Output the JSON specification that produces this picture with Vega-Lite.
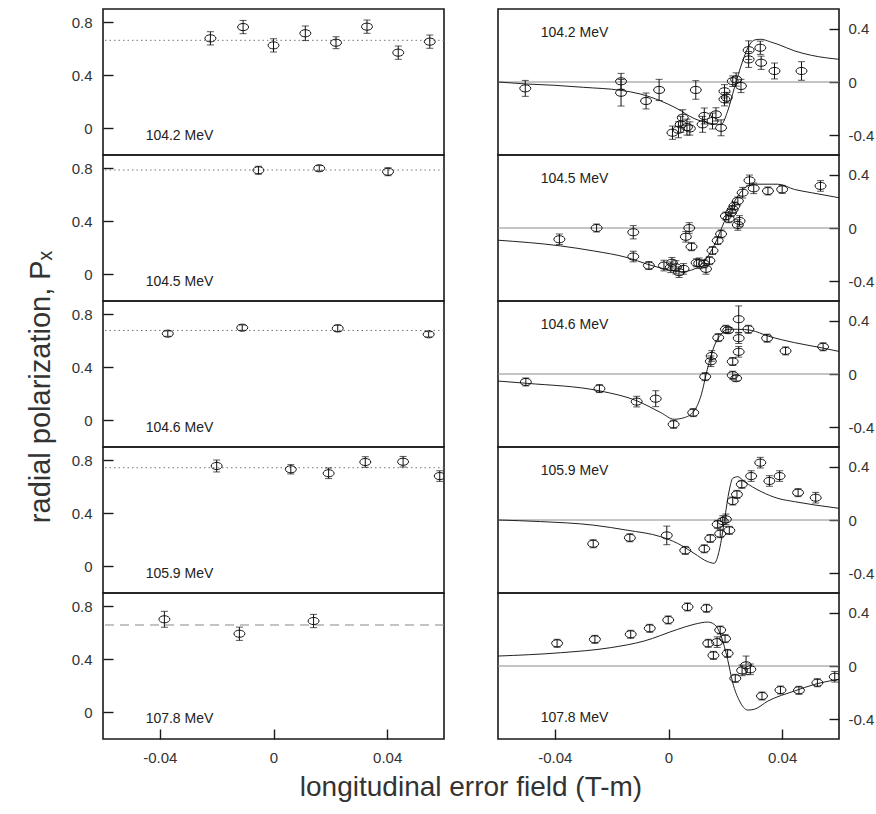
{
  "$schema": "https://vega.github.io/schema/vega-lite/v6.json",
  "padding": {"left": 27, "top": 8, "right": 0, "bottom": 5},
  "background": "white",
  "config": {
    "font": "Liberation Sans",
    "view": {"stroke": "#1a1a1a", "strokeWidth": 1.6},
    "axis": {"domain": false, "ticks": false, "tickSize": 0, "grid": true, "gridDash": [10, 2000], "gridColor": "#1a1a1a", "gridWidth": 1.4, "gridOpacity": 1, "labelFontSize": 15, "labelColor": "#333", "labelFont": "Liberation Sans"}
  },
  "datasets": {
    "left": [
      {"e": "104.2 MeV", "kind": "label"},
      {"e": "104.2 MeV", "kind": "mean", "y": 0.664},
      {"e": "104.2 MeV", "kind": "pt", "x": -0.0222, "y": 0.679, "err": 0.05},
      {"e": "104.2 MeV", "kind": "pt", "x": -0.0107, "y": 0.764, "err": 0.05},
      {"e": "104.2 MeV", "kind": "pt", "x": 0.0, "y": 0.626, "err": 0.05},
      {"e": "104.2 MeV", "kind": "pt", "x": 0.0112, "y": 0.717, "err": 0.055},
      {"e": "104.2 MeV", "kind": "pt", "x": 0.022, "y": 0.646, "err": 0.045},
      {"e": "104.2 MeV", "kind": "pt", "x": 0.0329, "y": 0.767, "err": 0.05},
      {"e": "104.2 MeV", "kind": "pt", "x": 0.0439, "y": 0.571, "err": 0.05},
      {"e": "104.2 MeV", "kind": "pt", "x": 0.055, "y": 0.654, "err": 0.05},
      {"e": "104.5 MeV", "kind": "label"},
      {"e": "104.5 MeV", "kind": "mean", "y": 0.787},
      {"e": "104.5 MeV", "kind": "pt", "x": -0.0053, "y": 0.785, "err": 0.03},
      {"e": "104.5 MeV", "kind": "pt", "x": 0.0161, "y": 0.8, "err": 0.02},
      {"e": "104.5 MeV", "kind": "pt", "x": 0.0403, "y": 0.774, "err": 0.03},
      {"e": "104.6 MeV", "kind": "label"},
      {"e": "104.6 MeV", "kind": "mean", "y": 0.678},
      {"e": "104.6 MeV", "kind": "pt", "x": -0.0372, "y": 0.654, "err": 0.02},
      {"e": "104.6 MeV", "kind": "pt", "x": -0.011, "y": 0.699, "err": 0.02},
      {"e": "104.6 MeV", "kind": "pt", "x": 0.0226, "y": 0.694, "err": 0.025},
      {"e": "104.6 MeV", "kind": "pt", "x": 0.0546, "y": 0.649, "err": 0.02},
      {"e": "105.9 MeV", "kind": "label"},
      {"e": "105.9 MeV", "kind": "mean", "y": 0.744},
      {"e": "105.9 MeV", "kind": "pt", "x": -0.02, "y": 0.757, "err": 0.045},
      {"e": "105.9 MeV", "kind": "pt", "x": 0.0061, "y": 0.732, "err": 0.035},
      {"e": "105.9 MeV", "kind": "pt", "x": 0.0194, "y": 0.702, "err": 0.04},
      {"e": "105.9 MeV", "kind": "pt", "x": 0.0323, "y": 0.787, "err": 0.04},
      {"e": "105.9 MeV", "kind": "pt", "x": 0.0456, "y": 0.789, "err": 0.04},
      {"e": "105.9 MeV", "kind": "pt", "x": 0.0585, "y": 0.681, "err": 0.04},
      {"e": "107.8 MeV", "kind": "label"},
      {"e": "107.8 MeV", "kind": "mean", "y": 0.659},
      {"e": "107.8 MeV", "kind": "pt", "x": -0.0384, "y": 0.702, "err": 0.06},
      {"e": "107.8 MeV", "kind": "pt", "x": -0.012, "y": 0.593, "err": 0.05},
      {"e": "107.8 MeV", "kind": "pt", "x": 0.0141, "y": 0.689, "err": 0.05}
    ],
    "right": [
      {"e": "104.2 MeV", "kind": "label"},
      {"e": "104.2 MeV", "kind": "pt", "x": -0.0504, "y": -0.048, "err": 0.06},
      {"e": "104.2 MeV", "kind": "pt", "x": -0.0167, "y": 0.005, "err": 0.06},
      {"e": "104.2 MeV", "kind": "pt", "x": -0.0167, "y": -0.081, "err": 0.1},
      {"e": "104.2 MeV", "kind": "pt", "x": -0.0079, "y": -0.143, "err": 0.06},
      {"e": "104.2 MeV", "kind": "pt", "x": -0.0033, "y": -0.06, "err": 0.08},
      {"e": "104.2 MeV", "kind": "pt", "x": 0.0096, "y": -0.06, "err": 0.07},
      {"e": "104.2 MeV", "kind": "pt", "x": 0.0014, "y": -0.382, "err": 0.05},
      {"e": "104.2 MeV", "kind": "pt", "x": 0.0035, "y": -0.36, "err": 0.06},
      {"e": "104.2 MeV", "kind": "pt", "x": 0.0043, "y": -0.319, "err": 0.06},
      {"e": "104.2 MeV", "kind": "pt", "x": 0.005, "y": -0.269, "err": 0.06},
      {"e": "104.2 MeV", "kind": "pt", "x": 0.0065, "y": -0.34, "err": 0.06},
      {"e": "104.2 MeV", "kind": "pt", "x": 0.0075, "y": -0.35, "err": 0.05},
      {"e": "104.2 MeV", "kind": "pt", "x": 0.012, "y": -0.319, "err": 0.06},
      {"e": "104.2 MeV", "kind": "pt", "x": 0.0126, "y": -0.256, "err": 0.06},
      {"e": "104.2 MeV", "kind": "pt", "x": 0.0155, "y": -0.294, "err": 0.06},
      {"e": "104.2 MeV", "kind": "pt", "x": 0.0167, "y": -0.244, "err": 0.05},
      {"e": "104.2 MeV", "kind": "pt", "x": 0.0185, "y": -0.345, "err": 0.06},
      {"e": "104.2 MeV", "kind": "pt", "x": 0.0197, "y": -0.07, "err": 0.05},
      {"e": "104.2 MeV", "kind": "pt", "x": 0.0197, "y": -0.13, "err": 0.05},
      {"e": "104.2 MeV", "kind": "pt", "x": 0.0205, "y": -0.118, "err": 0.04},
      {"e": "104.2 MeV", "kind": "pt", "x": 0.0226, "y": 0.006, "err": 0.04},
      {"e": "104.2 MeV", "kind": "pt", "x": 0.0238, "y": 0.019, "err": 0.05},
      {"e": "104.2 MeV", "kind": "pt", "x": 0.0255, "y": -0.03, "err": 0.05},
      {"e": "104.2 MeV", "kind": "pt", "x": 0.0282, "y": 0.24, "err": 0.07},
      {"e": "104.2 MeV", "kind": "pt", "x": 0.0282, "y": 0.17, "err": 0.06},
      {"e": "104.2 MeV", "kind": "pt", "x": 0.0323, "y": 0.258, "err": 0.05},
      {"e": "104.2 MeV", "kind": "pt", "x": 0.0326, "y": 0.145, "err": 0.05},
      {"e": "104.2 MeV", "kind": "pt", "x": 0.0373, "y": 0.083, "err": 0.06},
      {"e": "104.2 MeV", "kind": "pt", "x": 0.0468, "y": 0.083, "err": 0.07},
      {"e": "104.2 MeV", "kind": "fit", "x": -0.06, "y": 0.0},
      {"e": "104.2 MeV", "kind": "fit", "x": -0.05, "y": -0.015},
      {"e": "104.2 MeV", "kind": "fit", "x": -0.04, "y": -0.025},
      {"e": "104.2 MeV", "kind": "fit", "x": -0.03, "y": -0.04},
      {"e": "104.2 MeV", "kind": "fit", "x": -0.0167, "y": -0.063},
      {"e": "104.2 MeV", "kind": "fit", "x": -0.01, "y": -0.09},
      {"e": "104.2 MeV", "kind": "fit", "x": -0.0027, "y": -0.143},
      {"e": "104.2 MeV", "kind": "fit", "x": 0.003, "y": -0.2},
      {"e": "104.2 MeV", "kind": "fit", "x": 0.009, "y": -0.275},
      {"e": "104.2 MeV", "kind": "fit", "x": 0.0145, "y": -0.31},
      {"e": "104.2 MeV", "kind": "fit", "x": 0.0185, "y": -0.32},
      {"e": "104.2 MeV", "kind": "fit", "x": 0.0208, "y": -0.22},
      {"e": "104.2 MeV", "kind": "fit", "x": 0.0232, "y": -0.043},
      {"e": "104.2 MeV", "kind": "fit", "x": 0.0261, "y": 0.158},
      {"e": "104.2 MeV", "kind": "fit", "x": 0.0285, "y": 0.28},
      {"e": "104.2 MeV", "kind": "fit", "x": 0.0305, "y": 0.318},
      {"e": "104.2 MeV", "kind": "fit", "x": 0.0326, "y": 0.322},
      {"e": "104.2 MeV", "kind": "fit", "x": 0.0355, "y": 0.305},
      {"e": "104.2 MeV", "kind": "fit", "x": 0.0385, "y": 0.284},
      {"e": "104.2 MeV", "kind": "fit", "x": 0.0444, "y": 0.234},
      {"e": "104.2 MeV", "kind": "fit", "x": 0.0503, "y": 0.201},
      {"e": "104.2 MeV", "kind": "fit", "x": 0.06, "y": 0.171},
      {"e": "104.5 MeV", "kind": "label"},
      {"e": "104.5 MeV", "kind": "pt", "x": -0.0384, "y": -0.085, "err": 0.04},
      {"e": "104.5 MeV", "kind": "pt", "x": -0.0253, "y": 0.0, "err": 0.03},
      {"e": "104.5 MeV", "kind": "pt", "x": -0.0124, "y": -0.032, "err": 0.05},
      {"e": "104.5 MeV", "kind": "pt", "x": -0.0124, "y": -0.215, "err": 0.04},
      {"e": "104.5 MeV", "kind": "pt", "x": -0.0069, "y": -0.283, "err": 0.03},
      {"e": "104.5 MeV", "kind": "pt", "x": -0.0016, "y": -0.283, "err": 0.04},
      {"e": "104.5 MeV", "kind": "pt", "x": 0.0008, "y": -0.296, "err": 0.04},
      {"e": "104.5 MeV", "kind": "pt", "x": 0.0012, "y": -0.262, "err": 0.04},
      {"e": "104.5 MeV", "kind": "pt", "x": 0.0026, "y": -0.296, "err": 0.05},
      {"e": "104.5 MeV", "kind": "pt", "x": 0.0037, "y": -0.333, "err": 0.04},
      {"e": "104.5 MeV", "kind": "pt", "x": 0.0053, "y": -0.308, "err": 0.04},
      {"e": "104.5 MeV", "kind": "pt", "x": 0.0073, "y": 0.0, "err": 0.04},
      {"e": "104.5 MeV", "kind": "pt", "x": 0.0061, "y": -0.066, "err": 0.04},
      {"e": "104.5 MeV", "kind": "pt", "x": 0.0081, "y": -0.141, "err": 0.03},
      {"e": "104.5 MeV", "kind": "pt", "x": 0.0099, "y": -0.262, "err": 0.03},
      {"e": "104.5 MeV", "kind": "pt", "x": 0.0108, "y": -0.266, "err": 0.04},
      {"e": "104.5 MeV", "kind": "pt", "x": 0.0125, "y": -0.27, "err": 0.03},
      {"e": "104.5 MeV", "kind": "pt", "x": 0.0132, "y": -0.308, "err": 0.04},
      {"e": "104.5 MeV", "kind": "pt", "x": 0.0144, "y": -0.246, "err": 0.03},
      {"e": "104.5 MeV", "kind": "pt", "x": 0.0155, "y": -0.17, "err": 0.03},
      {"e": "104.5 MeV", "kind": "pt", "x": 0.0173, "y": -0.095, "err": 0.03},
      {"e": "104.5 MeV", "kind": "pt", "x": 0.0185, "y": -0.045, "err": 0.03},
      {"e": "104.5 MeV", "kind": "pt", "x": 0.0202, "y": 0.09, "err": 0.03},
      {"e": "104.5 MeV", "kind": "pt", "x": 0.0212, "y": 0.07, "err": 0.03},
      {"e": "104.5 MeV", "kind": "pt", "x": 0.022, "y": 0.116, "err": 0.03},
      {"e": "104.5 MeV", "kind": "pt", "x": 0.0226, "y": 0.14, "err": 0.03},
      {"e": "104.5 MeV", "kind": "pt", "x": 0.0232, "y": 0.166, "err": 0.03},
      {"e": "104.5 MeV", "kind": "pt", "x": 0.0244, "y": 0.204, "err": 0.03},
      {"e": "104.5 MeV", "kind": "pt", "x": 0.025, "y": 0.053, "err": 0.04},
      {"e": "104.5 MeV", "kind": "pt", "x": 0.0244, "y": 0.023, "err": 0.04},
      {"e": "104.5 MeV", "kind": "pt", "x": 0.0261, "y": 0.266, "err": 0.04},
      {"e": "104.5 MeV", "kind": "pt", "x": 0.0285, "y": 0.359, "err": 0.04},
      {"e": "104.5 MeV", "kind": "pt", "x": 0.03, "y": 0.299, "err": 0.04},
      {"e": "104.5 MeV", "kind": "pt", "x": 0.035, "y": 0.279, "err": 0.03},
      {"e": "104.5 MeV", "kind": "pt", "x": 0.04, "y": 0.291, "err": 0.03},
      {"e": "104.5 MeV", "kind": "pt", "x": 0.0535, "y": 0.317, "err": 0.04},
      {"e": "104.5 MeV", "kind": "fit", "x": -0.06, "y": -0.092},
      {"e": "104.5 MeV", "kind": "fit", "x": -0.038, "y": -0.135},
      {"e": "104.5 MeV", "kind": "fit", "x": -0.0263, "y": -0.173},
      {"e": "104.5 MeV", "kind": "fit", "x": -0.0145, "y": -0.223},
      {"e": "104.5 MeV", "kind": "fit", "x": -0.0074, "y": -0.273},
      {"e": "104.5 MeV", "kind": "fit", "x": 0.0, "y": -0.315},
      {"e": "104.5 MeV", "kind": "fit", "x": 0.0043, "y": -0.33},
      {"e": "104.5 MeV", "kind": "fit", "x": 0.009, "y": -0.31},
      {"e": "104.5 MeV", "kind": "fit", "x": 0.0126, "y": -0.25},
      {"e": "104.5 MeV", "kind": "fit", "x": 0.0161, "y": -0.13},
      {"e": "104.5 MeV", "kind": "fit", "x": 0.0197, "y": 0.05},
      {"e": "104.5 MeV", "kind": "fit", "x": 0.0232, "y": 0.2},
      {"e": "104.5 MeV", "kind": "fit", "x": 0.0267, "y": 0.3},
      {"e": "104.5 MeV", "kind": "fit", "x": 0.0302, "y": 0.33},
      {"e": "104.5 MeV", "kind": "fit", "x": 0.0385, "y": 0.33},
      {"e": "104.5 MeV", "kind": "fit", "x": 0.0444, "y": 0.29},
      {"e": "104.5 MeV", "kind": "fit", "x": 0.0503, "y": 0.266},
      {"e": "104.5 MeV", "kind": "fit", "x": 0.06, "y": 0.228},
      {"e": "104.6 MeV", "kind": "label"},
      {"e": "104.6 MeV", "kind": "pt", "x": -0.0502, "y": -0.06, "err": 0.03},
      {"e": "104.6 MeV", "kind": "pt", "x": -0.0243, "y": -0.11, "err": 0.03},
      {"e": "104.6 MeV", "kind": "pt", "x": -0.0112, "y": -0.208, "err": 0.04},
      {"e": "104.6 MeV", "kind": "pt", "x": -0.0045, "y": -0.186, "err": 0.06},
      {"e": "104.6 MeV", "kind": "pt", "x": 0.0018, "y": -0.379, "err": 0.03},
      {"e": "104.6 MeV", "kind": "pt", "x": 0.0087, "y": -0.291, "err": 0.03},
      {"e": "104.6 MeV", "kind": "pt", "x": 0.0129, "y": -0.02, "err": 0.03},
      {"e": "104.6 MeV", "kind": "pt", "x": 0.0149, "y": 0.096, "err": 0.04},
      {"e": "104.6 MeV", "kind": "pt", "x": 0.0152, "y": 0.136, "err": 0.04},
      {"e": "104.6 MeV", "kind": "pt", "x": 0.0175, "y": 0.274, "err": 0.03},
      {"e": "104.6 MeV", "kind": "pt", "x": 0.0202, "y": 0.337, "err": 0.03},
      {"e": "104.6 MeV", "kind": "pt", "x": 0.021, "y": 0.33, "err": 0.02},
      {"e": "104.6 MeV", "kind": "pt", "x": 0.0247, "y": 0.413, "err": 0.1},
      {"e": "104.6 MeV", "kind": "pt", "x": 0.0247, "y": 0.27, "err": 0.04},
      {"e": "104.6 MeV", "kind": "pt", "x": 0.0247, "y": 0.167, "err": 0.04},
      {"e": "104.6 MeV", "kind": "pt", "x": 0.0226, "y": 0.094, "err": 0.03},
      {"e": "104.6 MeV", "kind": "pt", "x": 0.0226, "y": -0.009, "err": 0.03},
      {"e": "104.6 MeV", "kind": "pt", "x": 0.0238, "y": -0.032, "err": 0.02},
      {"e": "104.6 MeV", "kind": "pt", "x": 0.0281, "y": 0.337, "err": 0.03},
      {"e": "104.6 MeV", "kind": "pt", "x": 0.0347, "y": 0.27, "err": 0.03},
      {"e": "104.6 MeV", "kind": "pt", "x": 0.0412, "y": 0.174, "err": 0.03},
      {"e": "104.6 MeV", "kind": "pt", "x": 0.0544, "y": 0.205, "err": 0.03},
      {"e": "104.6 MeV", "kind": "fit", "x": -0.06, "y": -0.053},
      {"e": "104.6 MeV", "kind": "fit", "x": -0.05, "y": -0.07},
      {"e": "104.6 MeV", "kind": "fit", "x": -0.024, "y": -0.128},
      {"e": "104.6 MeV", "kind": "fit", "x": -0.011, "y": -0.203},
      {"e": "104.6 MeV", "kind": "fit", "x": -0.0027, "y": -0.291},
      {"e": "104.6 MeV", "kind": "fit", "x": 0.002, "y": -0.341},
      {"e": "104.6 MeV", "kind": "fit", "x": 0.0055, "y": -0.329},
      {"e": "104.6 MeV", "kind": "fit", "x": 0.009, "y": -0.279},
      {"e": "104.6 MeV", "kind": "fit", "x": 0.0114, "y": -0.166},
      {"e": "104.6 MeV", "kind": "fit", "x": 0.0138, "y": 0.047},
      {"e": "104.6 MeV", "kind": "fit", "x": 0.0161, "y": 0.211},
      {"e": "104.6 MeV", "kind": "fit", "x": 0.0185, "y": 0.299},
      {"e": "104.6 MeV", "kind": "fit", "x": 0.0208, "y": 0.337},
      {"e": "104.6 MeV", "kind": "fit", "x": 0.0244, "y": 0.337},
      {"e": "104.6 MeV", "kind": "fit", "x": 0.0291, "y": 0.329},
      {"e": "104.6 MeV", "kind": "fit", "x": 0.035, "y": 0.286},
      {"e": "104.6 MeV", "kind": "fit", "x": 0.0444, "y": 0.236},
      {"e": "104.6 MeV", "kind": "fit", "x": 0.0538, "y": 0.198},
      {"e": "104.6 MeV", "kind": "fit", "x": 0.06, "y": 0.17},
      {"e": "105.9 MeV", "kind": "label"},
      {"e": "105.9 MeV", "kind": "pt", "x": -0.0265, "y": -0.179, "err": 0.03},
      {"e": "105.9 MeV", "kind": "pt", "x": -0.0136, "y": -0.134, "err": 0.03},
      {"e": "105.9 MeV", "kind": "pt", "x": -0.0006, "y": -0.116, "err": 0.07},
      {"e": "105.9 MeV", "kind": "pt", "x": 0.0059, "y": -0.229, "err": 0.03},
      {"e": "105.9 MeV", "kind": "pt", "x": 0.0126, "y": -0.217, "err": 0.03},
      {"e": "105.9 MeV", "kind": "pt", "x": 0.0147, "y": -0.139, "err": 0.03},
      {"e": "105.9 MeV", "kind": "pt", "x": 0.0173, "y": -0.033, "err": 0.03},
      {"e": "105.9 MeV", "kind": "pt", "x": 0.0182, "y": -0.103, "err": 0.03},
      {"e": "105.9 MeV", "kind": "pt", "x": 0.0191, "y": -0.008, "err": 0.04},
      {"e": "105.9 MeV", "kind": "pt", "x": 0.0202, "y": 0.005, "err": 0.04},
      {"e": "105.9 MeV", "kind": "pt", "x": 0.0214, "y": -0.078, "err": 0.03},
      {"e": "105.9 MeV", "kind": "pt", "x": 0.0226, "y": 0.143, "err": 0.03},
      {"e": "105.9 MeV", "kind": "pt", "x": 0.0241, "y": 0.193, "err": 0.03},
      {"e": "105.9 MeV", "kind": "pt", "x": 0.0258, "y": 0.269, "err": 0.03},
      {"e": "105.9 MeV", "kind": "pt", "x": 0.0291, "y": 0.331, "err": 0.04},
      {"e": "105.9 MeV", "kind": "pt", "x": 0.0323, "y": 0.432, "err": 0.04},
      {"e": "105.9 MeV", "kind": "pt", "x": 0.0355, "y": 0.294, "err": 0.04},
      {"e": "105.9 MeV", "kind": "pt", "x": 0.0391, "y": 0.331, "err": 0.04},
      {"e": "105.9 MeV", "kind": "pt", "x": 0.0456, "y": 0.206, "err": 0.03},
      {"e": "105.9 MeV", "kind": "pt", "x": 0.0518, "y": 0.168, "err": 0.04},
      {"e": "105.9 MeV", "kind": "fit", "x": -0.06, "y": 0.0},
      {"e": "105.9 MeV", "kind": "fit", "x": -0.045, "y": -0.012},
      {"e": "105.9 MeV", "kind": "fit", "x": -0.0263, "y": -0.039},
      {"e": "105.9 MeV", "kind": "fit", "x": -0.0145, "y": -0.077},
      {"e": "105.9 MeV", "kind": "fit", "x": -0.0027, "y": -0.126},
      {"e": "105.9 MeV", "kind": "fit", "x": 0.0032, "y": -0.176},
      {"e": "105.9 MeV", "kind": "fit", "x": 0.009, "y": -0.251},
      {"e": "105.9 MeV", "kind": "fit", "x": 0.0138, "y": -0.314},
      {"e": "105.9 MeV", "kind": "fit", "x": 0.0161, "y": -0.326},
      {"e": "105.9 MeV", "kind": "fit", "x": 0.0179, "y": -0.226},
      {"e": "105.9 MeV", "kind": "fit", "x": 0.0197, "y": 0.0},
      {"e": "105.9 MeV", "kind": "fit", "x": 0.0214, "y": 0.226},
      {"e": "105.9 MeV", "kind": "fit", "x": 0.0226, "y": 0.314},
      {"e": "105.9 MeV", "kind": "fit", "x": 0.0244, "y": 0.326},
      {"e": "105.9 MeV", "kind": "fit", "x": 0.0267, "y": 0.289},
      {"e": "105.9 MeV", "kind": "fit", "x": 0.0326, "y": 0.214},
      {"e": "105.9 MeV", "kind": "fit", "x": 0.0385, "y": 0.163},
      {"e": "105.9 MeV", "kind": "fit", "x": 0.0444, "y": 0.138},
      {"e": "105.9 MeV", "kind": "fit", "x": 0.0515, "y": 0.113},
      {"e": "105.9 MeV", "kind": "fit", "x": 0.06, "y": 0.088},
      {"e": "107.8 MeV", "kind": "label"},
      {"e": "107.8 MeV", "kind": "pt", "x": -0.0392, "y": 0.171, "err": 0.03},
      {"e": "107.8 MeV", "kind": "pt", "x": -0.0259, "y": 0.201, "err": 0.03},
      {"e": "107.8 MeV", "kind": "pt", "x": -0.0133, "y": 0.239, "err": 0.03},
      {"e": "107.8 MeV", "kind": "pt", "x": -0.0066, "y": 0.284, "err": 0.03},
      {"e": "107.8 MeV", "kind": "pt", "x": -0.0001, "y": 0.347, "err": 0.03},
      {"e": "107.8 MeV", "kind": "pt", "x": 0.0067, "y": 0.445, "err": 0.03},
      {"e": "107.8 MeV", "kind": "pt", "x": 0.0134, "y": 0.435, "err": 0.03},
      {"e": "107.8 MeV", "kind": "pt", "x": 0.0182, "y": 0.271, "err": 0.03},
      {"e": "107.8 MeV", "kind": "pt", "x": 0.0199, "y": 0.206, "err": 0.03},
      {"e": "107.8 MeV", "kind": "pt", "x": 0.014, "y": 0.171, "err": 0.03},
      {"e": "107.8 MeV", "kind": "pt", "x": 0.0171, "y": 0.18, "err": 0.04},
      {"e": "107.8 MeV", "kind": "pt", "x": 0.0158, "y": 0.08, "err": 0.03},
      {"e": "107.8 MeV", "kind": "pt", "x": 0.0208, "y": 0.095, "err": 0.03},
      {"e": "107.8 MeV", "kind": "pt", "x": 0.0235, "y": -0.093, "err": 0.03},
      {"e": "107.8 MeV", "kind": "pt", "x": 0.0259, "y": -0.033, "err": 0.04},
      {"e": "107.8 MeV", "kind": "pt", "x": 0.0273, "y": 0.005, "err": 0.07},
      {"e": "107.8 MeV", "kind": "pt", "x": 0.0288, "y": -0.025, "err": 0.04},
      {"e": "107.8 MeV", "kind": "pt", "x": 0.0329, "y": -0.226, "err": 0.03},
      {"e": "107.8 MeV", "kind": "pt", "x": 0.0394, "y": -0.181, "err": 0.03},
      {"e": "107.8 MeV", "kind": "pt", "x": 0.0459, "y": -0.183, "err": 0.03},
      {"e": "107.8 MeV", "kind": "pt", "x": 0.0524, "y": -0.126, "err": 0.03},
      {"e": "107.8 MeV", "kind": "pt", "x": 0.0585, "y": -0.081, "err": 0.04},
      {"e": "107.8 MeV", "kind": "fit", "x": -0.06, "y": 0.075},
      {"e": "107.8 MeV", "kind": "fit", "x": -0.038, "y": 0.1},
      {"e": "107.8 MeV", "kind": "fit", "x": -0.0204, "y": 0.138},
      {"e": "107.8 MeV", "kind": "fit", "x": -0.0086, "y": 0.188},
      {"e": "107.8 MeV", "kind": "fit", "x": 0.0032, "y": 0.276},
      {"e": "107.8 MeV", "kind": "fit", "x": 0.009, "y": 0.314},
      {"e": "107.8 MeV", "kind": "fit", "x": 0.0138, "y": 0.331},
      {"e": "107.8 MeV", "kind": "fit", "x": 0.0161, "y": 0.314},
      {"e": "107.8 MeV", "kind": "fit", "x": 0.0185, "y": 0.226},
      {"e": "107.8 MeV", "kind": "fit", "x": 0.0208, "y": 0.05},
      {"e": "107.8 MeV", "kind": "fit", "x": 0.0226, "y": -0.126},
      {"e": "107.8 MeV", "kind": "fit", "x": 0.025, "y": -0.264},
      {"e": "107.8 MeV", "kind": "fit", "x": 0.0279, "y": -0.332},
      {"e": "107.8 MeV", "kind": "fit", "x": 0.0302, "y": -0.326},
      {"e": "107.8 MeV", "kind": "fit", "x": 0.035, "y": -0.264},
      {"e": "107.8 MeV", "kind": "fit", "x": 0.0444, "y": -0.188},
      {"e": "107.8 MeV", "kind": "fit", "x": 0.0515, "y": -0.138},
      {"e": "107.8 MeV", "kind": "fit", "x": 0.06, "y": -0.1}
    ]
  },
  "title": {"text": "longitudinal error field (T-m)", "orient": "bottom", "anchor": "middle", "fontSize": 28, "fontWeight": "normal", "color": "#333", "font": "Liberation Sans", "offset": 8, "dx": 20},
  "spacing": 50,
  "hconcat": [
    {
      "data": {"name": "left"},
      "title": {"text": "radial polarization, Pₓ", "orient": "left", "anchor": "middle", "fontSize": 29, "fontWeight": "normal", "color": "#333", "font": "Liberation Sans", "offset": 14},
      "spacing": 0,
      "bounds": "flush",
      "vconcat": [
        {
          "width": 341, "height": 146,
          "transform": [{"filter": "datum.e == '104.2 MeV'"}],
          "layer": [
            {"transform": [{"filter": "datum.kind == 'mean'"}], "mark": {"type": "rule", "color": "#777", "strokeWidth": 1, "strokeDash": [1.5, 3]}, "encoding": {"y": {"field": "y", "type": "quantitative", "scale": {"domain": [-0.2, 0.9], "nice": false, "zero": false}, "axis": {"values": [0, 0.4, 0.8], "title": null, "labelPadding": 11, "labelExpr": "format(datum.value, '.1~f')"}}}},
            {"transform": [{"filter": "datum.kind == 'pt'"}], "mark": {"type": "errorbar", "color": "#111", "thickness": 1, "ticks": {"size": 7, "thickness": 1, "color": "#111"}, "clip": true}, "encoding": {"x": {"field": "x", "type": "quantitative", "scale": {"domain": [-0.06, 0.06], "nice": false, "zero": false}, "axis": null}, "y": {"field": "y", "type": "quantitative", "axis": {"values": [0, 0.4, 0.8], "title": null, "labelPadding": 11, "labelExpr": "format(datum.value, '.1~f')"}}, "yError": {"field": "err"}}},
            {"transform": [{"filter": "datum.kind == 'pt'"}], "mark": {"type": "point", "shape": "M-1,0A1,0.65,0,1,1,1,0A1,0.65,0,1,1,-1,0Z", "size": 121, "filled": false, "stroke": "#111", "strokeWidth": 1, "opacity": 1, "clip": true}, "encoding": {"x": {"field": "x", "type": "quantitative", "axis": null}, "y": {"field": "y", "type": "quantitative", "axis": {"values": [0, 0.4, 0.8], "title": null, "labelPadding": 11, "labelExpr": "format(datum.value, '.1~f')"}}}},
            {"transform": [{"filter": "datum.kind == 'label'"}], "mark": {"type": "text", "align": "left", "baseline": "middle", "fontSize": 14, "color": "#222"}, "encoding": {"x": {"datum": -0.045, "type": "quantitative", "axis": null}, "y": {"datum": -0.055, "type": "quantitative", "axis": {"values": [0, 0.4, 0.8], "title": null, "labelPadding": 11, "labelExpr": "format(datum.value, '.1~f')"}}, "text": {"field": "e"}}}
          ]
        },
        {
          "width": 341, "height": 146,
          "transform": [{"filter": "datum.e == '104.5 MeV'"}],
          "layer": [
            {"transform": [{"filter": "datum.kind == 'mean'"}], "mark": {"type": "rule", "color": "#777", "strokeWidth": 1, "strokeDash": [1.5, 3]}, "encoding": {"y": {"field": "y", "type": "quantitative", "scale": {"domain": [-0.2, 0.9], "nice": false, "zero": false}, "axis": {"values": [0, 0.4, 0.8], "title": null, "labelPadding": 11, "labelExpr": "format(datum.value, '.1~f')"}}}},
            {"transform": [{"filter": "datum.kind == 'pt'"}], "mark": {"type": "errorbar", "color": "#111", "thickness": 1, "ticks": {"size": 7, "thickness": 1, "color": "#111"}, "clip": true}, "encoding": {"x": {"field": "x", "type": "quantitative", "scale": {"domain": [-0.06, 0.06], "nice": false, "zero": false}, "axis": null}, "y": {"field": "y", "type": "quantitative", "axis": {"values": [0, 0.4, 0.8], "title": null, "labelPadding": 11, "labelExpr": "format(datum.value, '.1~f')"}}, "yError": {"field": "err"}}},
            {"transform": [{"filter": "datum.kind == 'pt'"}], "mark": {"type": "point", "shape": "M-1,0A1,0.65,0,1,1,1,0A1,0.65,0,1,1,-1,0Z", "size": 121, "filled": false, "stroke": "#111", "strokeWidth": 1, "opacity": 1, "clip": true}, "encoding": {"x": {"field": "x", "type": "quantitative", "axis": null}, "y": {"field": "y", "type": "quantitative", "axis": {"values": [0, 0.4, 0.8], "title": null, "labelPadding": 11, "labelExpr": "format(datum.value, '.1~f')"}}}},
            {"transform": [{"filter": "datum.kind == 'label'"}], "mark": {"type": "text", "align": "left", "baseline": "middle", "fontSize": 14, "color": "#222"}, "encoding": {"x": {"datum": -0.045, "type": "quantitative", "axis": null}, "y": {"datum": -0.055, "type": "quantitative", "axis": {"values": [0, 0.4, 0.8], "title": null, "labelPadding": 11, "labelExpr": "format(datum.value, '.1~f')"}}, "text": {"field": "e"}}}
          ]
        },
        {
          "width": 341, "height": 146,
          "transform": [{"filter": "datum.e == '104.6 MeV'"}],
          "layer": [
            {"transform": [{"filter": "datum.kind == 'mean'"}], "mark": {"type": "rule", "color": "#777", "strokeWidth": 1, "strokeDash": [1.5, 3]}, "encoding": {"y": {"field": "y", "type": "quantitative", "scale": {"domain": [-0.2, 0.9], "nice": false, "zero": false}, "axis": {"values": [0, 0.4, 0.8], "title": null, "labelPadding": 11, "labelExpr": "format(datum.value, '.1~f')"}}}},
            {"transform": [{"filter": "datum.kind == 'pt'"}], "mark": {"type": "errorbar", "color": "#111", "thickness": 1, "ticks": {"size": 7, "thickness": 1, "color": "#111"}, "clip": true}, "encoding": {"x": {"field": "x", "type": "quantitative", "scale": {"domain": [-0.06, 0.06], "nice": false, "zero": false}, "axis": null}, "y": {"field": "y", "type": "quantitative", "axis": {"values": [0, 0.4, 0.8], "title": null, "labelPadding": 11, "labelExpr": "format(datum.value, '.1~f')"}}, "yError": {"field": "err"}}},
            {"transform": [{"filter": "datum.kind == 'pt'"}], "mark": {"type": "point", "shape": "M-1,0A1,0.65,0,1,1,1,0A1,0.65,0,1,1,-1,0Z", "size": 121, "filled": false, "stroke": "#111", "strokeWidth": 1, "opacity": 1, "clip": true}, "encoding": {"x": {"field": "x", "type": "quantitative", "axis": null}, "y": {"field": "y", "type": "quantitative", "axis": {"values": [0, 0.4, 0.8], "title": null, "labelPadding": 11, "labelExpr": "format(datum.value, '.1~f')"}}}},
            {"transform": [{"filter": "datum.kind == 'label'"}], "mark": {"type": "text", "align": "left", "baseline": "middle", "fontSize": 14, "color": "#222"}, "encoding": {"x": {"datum": -0.045, "type": "quantitative", "axis": null}, "y": {"datum": -0.055, "type": "quantitative", "axis": {"values": [0, 0.4, 0.8], "title": null, "labelPadding": 11, "labelExpr": "format(datum.value, '.1~f')"}}, "text": {"field": "e"}}}
          ]
        },
        {
          "width": 341, "height": 146,
          "transform": [{"filter": "datum.e == '105.9 MeV'"}],
          "layer": [
            {"transform": [{"filter": "datum.kind == 'mean'"}], "mark": {"type": "rule", "color": "#777", "strokeWidth": 1, "strokeDash": [1.5, 3]}, "encoding": {"y": {"field": "y", "type": "quantitative", "scale": {"domain": [-0.2, 0.9], "nice": false, "zero": false}, "axis": {"values": [0, 0.4, 0.8], "title": null, "labelPadding": 11, "labelExpr": "format(datum.value, '.1~f')"}}}},
            {"transform": [{"filter": "datum.kind == 'pt'"}], "mark": {"type": "errorbar", "color": "#111", "thickness": 1, "ticks": {"size": 7, "thickness": 1, "color": "#111"}, "clip": true}, "encoding": {"x": {"field": "x", "type": "quantitative", "scale": {"domain": [-0.06, 0.06], "nice": false, "zero": false}, "axis": null}, "y": {"field": "y", "type": "quantitative", "axis": {"values": [0, 0.4, 0.8], "title": null, "labelPadding": 11, "labelExpr": "format(datum.value, '.1~f')"}}, "yError": {"field": "err"}}},
            {"transform": [{"filter": "datum.kind == 'pt'"}], "mark": {"type": "point", "shape": "M-1,0A1,0.65,0,1,1,1,0A1,0.65,0,1,1,-1,0Z", "size": 121, "filled": false, "stroke": "#111", "strokeWidth": 1, "opacity": 1, "clip": true}, "encoding": {"x": {"field": "x", "type": "quantitative", "axis": null}, "y": {"field": "y", "type": "quantitative", "axis": {"values": [0, 0.4, 0.8], "title": null, "labelPadding": 11, "labelExpr": "format(datum.value, '.1~f')"}}}},
            {"transform": [{"filter": "datum.kind == 'label'"}], "mark": {"type": "text", "align": "left", "baseline": "middle", "fontSize": 14, "color": "#222"}, "encoding": {"x": {"datum": -0.045, "type": "quantitative", "axis": null}, "y": {"datum": -0.055, "type": "quantitative", "axis": {"values": [0, 0.4, 0.8], "title": null, "labelPadding": 11, "labelExpr": "format(datum.value, '.1~f')"}}, "text": {"field": "e"}}}
          ]
        },
        {
          "width": 341, "height": 146,
          "transform": [{"filter": "datum.e == '107.8 MeV'"}],
          "layer": [
            {"transform": [{"filter": "datum.kind == 'mean'"}], "mark": {"type": "rule", "color": "#888", "strokeWidth": 1, "strokeDash": [9, 6]}, "encoding": {"y": {"field": "y", "type": "quantitative", "scale": {"domain": [-0.2, 0.9], "nice": false, "zero": false}, "axis": {"values": [0, 0.4, 0.8], "title": null, "labelPadding": 11, "labelExpr": "format(datum.value, '.1~f')"}}}},
            {"transform": [{"filter": "datum.kind == 'pt'"}], "mark": {"type": "errorbar", "color": "#111", "thickness": 1, "ticks": {"size": 7, "thickness": 1, "color": "#111"}, "clip": true}, "encoding": {"x": {"field": "x", "type": "quantitative", "scale": {"domain": [-0.06, 0.06], "nice": false, "zero": false}, "axis": {"values": [-0.04, 0, 0.04], "title": null, "labelPadding": 11, "gridDash": [10, 136], "gridDashOffset": 10, "labelExpr": "datum.value < 0 ? '-' + format(-datum.value, '.2~f') : format(datum.value, '.2~f')"}}, "y": {"field": "y", "type": "quantitative", "axis": {"values": [0, 0.4, 0.8], "title": null, "labelPadding": 11, "labelExpr": "format(datum.value, '.1~f')"}}, "yError": {"field": "err"}}},
            {"transform": [{"filter": "datum.kind == 'pt'"}], "mark": {"type": "point", "shape": "M-1,0A1,0.65,0,1,1,1,0A1,0.65,0,1,1,-1,0Z", "size": 121, "filled": false, "stroke": "#111", "strokeWidth": 1, "opacity": 1, "clip": true}, "encoding": {"x": {"field": "x", "type": "quantitative", "axis": {"values": [-0.04, 0, 0.04], "title": null, "labelPadding": 11, "gridDash": [10, 136], "gridDashOffset": 10, "labelExpr": "datum.value < 0 ? '-' + format(-datum.value, '.2~f') : format(datum.value, '.2~f')"}}, "y": {"field": "y", "type": "quantitative", "axis": {"values": [0, 0.4, 0.8], "title": null, "labelPadding": 11, "labelExpr": "format(datum.value, '.1~f')"}}}},
            {"transform": [{"filter": "datum.kind == 'label'"}], "mark": {"type": "text", "align": "left", "baseline": "middle", "fontSize": 14, "color": "#222"}, "encoding": {"x": {"datum": -0.045, "type": "quantitative", "axis": {"values": [-0.04, 0, 0.04], "title": null, "labelPadding": 11, "gridDash": [10, 136], "gridDashOffset": 10, "labelExpr": "datum.value < 0 ? '-' + format(-datum.value, '.2~f') : format(datum.value, '.2~f')"}}, "y": {"datum": -0.05, "type": "quantitative", "axis": {"values": [0, 0.4, 0.8], "title": null, "labelPadding": 11, "labelExpr": "format(datum.value, '.1~f')"}}, "text": {"field": "e"}}}
          ]
        }
      ]
    },
    {
      "data": {"name": "right"},
      "spacing": 0,
      "bounds": "flush",
      "vconcat": [
        {
          "width": 341, "height": 146,
          "transform": [{"filter": "datum.e == '104.2 MeV'"}],
          "layer": [
            {"transform": [{"filter": "datum.kind == 'label'"}], "mark": {"type": "rule", "color": "#8a8a8a", "strokeWidth": 1}, "encoding": {"y": {"datum": 0, "type": "quantitative", "scale": {"domain": [-0.55, 0.55], "nice": false, "zero": false}, "axis": {"orient": "right", "values": [-0.4, 0, 0.4], "title": null, "labelPadding": 9, "labelExpr": "datum.value < 0 ? '-' + format(-datum.value, '.1~f') : format(datum.value, '.1~f')"}}}},
            {"transform": [{"filter": "datum.kind == 'fit'"}], "mark": {"type": "line", "color": "#222", "strokeWidth": 1, "clip": true, "interpolate": "monotone"}, "encoding": {"x": {"field": "x", "type": "quantitative", "scale": {"domain": [-0.06, 0.06], "nice": false, "zero": false}, "axis": null}, "y": {"field": "y", "type": "quantitative", "axis": {"orient": "right", "values": [-0.4, 0, 0.4], "title": null, "labelPadding": 9, "labelExpr": "datum.value < 0 ? '-' + format(-datum.value, '.1~f') : format(datum.value, '.1~f')"}}}},
            {"transform": [{"filter": "datum.kind == 'pt'"}], "mark": {"type": "errorbar", "color": "#111", "thickness": 1, "ticks": {"size": 7, "thickness": 1, "color": "#111"}, "clip": true}, "encoding": {"x": {"field": "x", "type": "quantitative", "axis": null}, "y": {"field": "y", "type": "quantitative", "axis": {"orient": "right", "values": [-0.4, 0, 0.4], "title": null, "labelPadding": 9, "labelExpr": "datum.value < 0 ? '-' + format(-datum.value, '.1~f') : format(datum.value, '.1~f')"}}, "yError": {"field": "err"}}},
            {"transform": [{"filter": "datum.kind == 'pt'"}], "mark": {"type": "point", "shape": "M-1,0A1,0.65,0,1,1,1,0A1,0.65,0,1,1,-1,0Z", "size": 121, "filled": false, "stroke": "#111", "strokeWidth": 1, "opacity": 1, "clip": true}, "encoding": {"x": {"field": "x", "type": "quantitative", "axis": null}, "y": {"field": "y", "type": "quantitative", "axis": {"orient": "right", "values": [-0.4, 0, 0.4], "title": null, "labelPadding": 9, "labelExpr": "datum.value < 0 ? '-' + format(-datum.value, '.1~f') : format(datum.value, '.1~f')"}}}},
            {"transform": [{"filter": "datum.kind == 'label'"}], "mark": {"type": "text", "align": "left", "baseline": "middle", "fontSize": 14, "color": "#222"}, "encoding": {"x": {"datum": -0.045, "type": "quantitative", "axis": null}, "y": {"datum": 0.37, "type": "quantitative", "axis": {"orient": "right", "values": [-0.4, 0, 0.4], "title": null, "labelPadding": 9, "labelExpr": "datum.value < 0 ? '-' + format(-datum.value, '.1~f') : format(datum.value, '.1~f')"}}, "text": {"field": "e"}}}
          ]
        },
        {
          "width": 341, "height": 146,
          "transform": [{"filter": "datum.e == '104.5 MeV'"}],
          "layer": [
            {"transform": [{"filter": "datum.kind == 'label'"}], "mark": {"type": "rule", "color": "#8a8a8a", "strokeWidth": 1}, "encoding": {"y": {"datum": 0, "type": "quantitative", "scale": {"domain": [-0.55, 0.55], "nice": false, "zero": false}, "axis": {"orient": "right", "values": [-0.4, 0, 0.4], "title": null, "labelPadding": 9, "labelExpr": "datum.value < 0 ? '-' + format(-datum.value, '.1~f') : format(datum.value, '.1~f')"}}}},
            {"transform": [{"filter": "datum.kind == 'fit'"}], "mark": {"type": "line", "color": "#222", "strokeWidth": 1, "clip": true, "interpolate": "monotone"}, "encoding": {"x": {"field": "x", "type": "quantitative", "scale": {"domain": [-0.06, 0.06], "nice": false, "zero": false}, "axis": null}, "y": {"field": "y", "type": "quantitative", "axis": {"orient": "right", "values": [-0.4, 0, 0.4], "title": null, "labelPadding": 9, "labelExpr": "datum.value < 0 ? '-' + format(-datum.value, '.1~f') : format(datum.value, '.1~f')"}}}},
            {"transform": [{"filter": "datum.kind == 'pt'"}], "mark": {"type": "errorbar", "color": "#111", "thickness": 1, "ticks": {"size": 7, "thickness": 1, "color": "#111"}, "clip": true}, "encoding": {"x": {"field": "x", "type": "quantitative", "axis": null}, "y": {"field": "y", "type": "quantitative", "axis": {"orient": "right", "values": [-0.4, 0, 0.4], "title": null, "labelPadding": 9, "labelExpr": "datum.value < 0 ? '-' + format(-datum.value, '.1~f') : format(datum.value, '.1~f')"}}, "yError": {"field": "err"}}},
            {"transform": [{"filter": "datum.kind == 'pt'"}], "mark": {"type": "point", "shape": "M-1,0A1,0.65,0,1,1,1,0A1,0.65,0,1,1,-1,0Z", "size": 121, "filled": false, "stroke": "#111", "strokeWidth": 1, "opacity": 1, "clip": true}, "encoding": {"x": {"field": "x", "type": "quantitative", "axis": null}, "y": {"field": "y", "type": "quantitative", "axis": {"orient": "right", "values": [-0.4, 0, 0.4], "title": null, "labelPadding": 9, "labelExpr": "datum.value < 0 ? '-' + format(-datum.value, '.1~f') : format(datum.value, '.1~f')"}}}},
            {"transform": [{"filter": "datum.kind == 'label'"}], "mark": {"type": "text", "align": "left", "baseline": "middle", "fontSize": 14, "color": "#222"}, "encoding": {"x": {"datum": -0.045, "type": "quantitative", "axis": null}, "y": {"datum": 0.37, "type": "quantitative", "axis": {"orient": "right", "values": [-0.4, 0, 0.4], "title": null, "labelPadding": 9, "labelExpr": "datum.value < 0 ? '-' + format(-datum.value, '.1~f') : format(datum.value, '.1~f')"}}, "text": {"field": "e"}}}
          ]
        },
        {
          "width": 341, "height": 146,
          "transform": [{"filter": "datum.e == '104.6 MeV'"}],
          "layer": [
            {"transform": [{"filter": "datum.kind == 'label'"}], "mark": {"type": "rule", "color": "#8a8a8a", "strokeWidth": 1}, "encoding": {"y": {"datum": 0, "type": "quantitative", "scale": {"domain": [-0.55, 0.55], "nice": false, "zero": false}, "axis": {"orient": "right", "values": [-0.4, 0, 0.4], "title": null, "labelPadding": 9, "labelExpr": "datum.value < 0 ? '-' + format(-datum.value, '.1~f') : format(datum.value, '.1~f')"}}}},
            {"transform": [{"filter": "datum.kind == 'fit'"}], "mark": {"type": "line", "color": "#222", "strokeWidth": 1, "clip": true, "interpolate": "monotone"}, "encoding": {"x": {"field": "x", "type": "quantitative", "scale": {"domain": [-0.06, 0.06], "nice": false, "zero": false}, "axis": null}, "y": {"field": "y", "type": "quantitative", "axis": {"orient": "right", "values": [-0.4, 0, 0.4], "title": null, "labelPadding": 9, "labelExpr": "datum.value < 0 ? '-' + format(-datum.value, '.1~f') : format(datum.value, '.1~f')"}}}},
            {"transform": [{"filter": "datum.kind == 'pt'"}], "mark": {"type": "errorbar", "color": "#111", "thickness": 1, "ticks": {"size": 7, "thickness": 1, "color": "#111"}, "clip": true}, "encoding": {"x": {"field": "x", "type": "quantitative", "axis": null}, "y": {"field": "y", "type": "quantitative", "axis": {"orient": "right", "values": [-0.4, 0, 0.4], "title": null, "labelPadding": 9, "labelExpr": "datum.value < 0 ? '-' + format(-datum.value, '.1~f') : format(datum.value, '.1~f')"}}, "yError": {"field": "err"}}},
            {"transform": [{"filter": "datum.kind == 'pt'"}], "mark": {"type": "point", "shape": "M-1,0A1,0.65,0,1,1,1,0A1,0.65,0,1,1,-1,0Z", "size": 121, "filled": false, "stroke": "#111", "strokeWidth": 1, "opacity": 1, "clip": true}, "encoding": {"x": {"field": "x", "type": "quantitative", "axis": null}, "y": {"field": "y", "type": "quantitative", "axis": {"orient": "right", "values": [-0.4, 0, 0.4], "title": null, "labelPadding": 9, "labelExpr": "datum.value < 0 ? '-' + format(-datum.value, '.1~f') : format(datum.value, '.1~f')"}}}},
            {"transform": [{"filter": "datum.kind == 'label'"}], "mark": {"type": "text", "align": "left", "baseline": "middle", "fontSize": 14, "color": "#222"}, "encoding": {"x": {"datum": -0.045, "type": "quantitative", "axis": null}, "y": {"datum": 0.37, "type": "quantitative", "axis": {"orient": "right", "values": [-0.4, 0, 0.4], "title": null, "labelPadding": 9, "labelExpr": "datum.value < 0 ? '-' + format(-datum.value, '.1~f') : format(datum.value, '.1~f')"}}, "text": {"field": "e"}}}
          ]
        },
        {
          "width": 341, "height": 146,
          "transform": [{"filter": "datum.e == '105.9 MeV'"}],
          "layer": [
            {"transform": [{"filter": "datum.kind == 'label'"}], "mark": {"type": "rule", "color": "#8a8a8a", "strokeWidth": 1}, "encoding": {"y": {"datum": 0, "type": "quantitative", "scale": {"domain": [-0.55, 0.55], "nice": false, "zero": false}, "axis": {"orient": "right", "values": [-0.4, 0, 0.4], "title": null, "labelPadding": 9, "labelExpr": "datum.value < 0 ? '-' + format(-datum.value, '.1~f') : format(datum.value, '.1~f')"}}}},
            {"transform": [{"filter": "datum.kind == 'fit'"}], "mark": {"type": "line", "color": "#222", "strokeWidth": 1, "clip": true, "interpolate": "monotone"}, "encoding": {"x": {"field": "x", "type": "quantitative", "scale": {"domain": [-0.06, 0.06], "nice": false, "zero": false}, "axis": null}, "y": {"field": "y", "type": "quantitative", "axis": {"orient": "right", "values": [-0.4, 0, 0.4], "title": null, "labelPadding": 9, "labelExpr": "datum.value < 0 ? '-' + format(-datum.value, '.1~f') : format(datum.value, '.1~f')"}}}},
            {"transform": [{"filter": "datum.kind == 'pt'"}], "mark": {"type": "errorbar", "color": "#111", "thickness": 1, "ticks": {"size": 7, "thickness": 1, "color": "#111"}, "clip": true}, "encoding": {"x": {"field": "x", "type": "quantitative", "axis": null}, "y": {"field": "y", "type": "quantitative", "axis": {"orient": "right", "values": [-0.4, 0, 0.4], "title": null, "labelPadding": 9, "labelExpr": "datum.value < 0 ? '-' + format(-datum.value, '.1~f') : format(datum.value, '.1~f')"}}, "yError": {"field": "err"}}},
            {"transform": [{"filter": "datum.kind == 'pt'"}], "mark": {"type": "point", "shape": "M-1,0A1,0.65,0,1,1,1,0A1,0.65,0,1,1,-1,0Z", "size": 121, "filled": false, "stroke": "#111", "strokeWidth": 1, "opacity": 1, "clip": true}, "encoding": {"x": {"field": "x", "type": "quantitative", "axis": null}, "y": {"field": "y", "type": "quantitative", "axis": {"orient": "right", "values": [-0.4, 0, 0.4], "title": null, "labelPadding": 9, "labelExpr": "datum.value < 0 ? '-' + format(-datum.value, '.1~f') : format(datum.value, '.1~f')"}}}},
            {"transform": [{"filter": "datum.kind == 'label'"}], "mark": {"type": "text", "align": "left", "baseline": "middle", "fontSize": 14, "color": "#222"}, "encoding": {"x": {"datum": -0.045, "type": "quantitative", "axis": null}, "y": {"datum": 0.37, "type": "quantitative", "axis": {"orient": "right", "values": [-0.4, 0, 0.4], "title": null, "labelPadding": 9, "labelExpr": "datum.value < 0 ? '-' + format(-datum.value, '.1~f') : format(datum.value, '.1~f')"}}, "text": {"field": "e"}}}
          ]
        },
        {
          "width": 341, "height": 146,
          "transform": [{"filter": "datum.e == '107.8 MeV'"}],
          "layer": [
            {"transform": [{"filter": "datum.kind == 'label'"}], "mark": {"type": "rule", "color": "#8a8a8a", "strokeWidth": 1}, "encoding": {"y": {"datum": 0, "type": "quantitative", "scale": {"domain": [-0.55, 0.55], "nice": false, "zero": false}, "axis": {"orient": "right", "values": [-0.4, 0, 0.4], "title": null, "labelPadding": 9, "labelExpr": "datum.value < 0 ? '-' + format(-datum.value, '.1~f') : format(datum.value, '.1~f')"}}}},
            {"transform": [{"filter": "datum.kind == 'fit'"}], "mark": {"type": "line", "color": "#222", "strokeWidth": 1, "clip": true, "interpolate": "monotone"}, "encoding": {"x": {"field": "x", "type": "quantitative", "scale": {"domain": [-0.06, 0.06], "nice": false, "zero": false}, "axis": {"values": [-0.04, 0, 0.04], "title": null, "labelPadding": 11, "gridDash": [10, 136], "gridDashOffset": 10, "labelExpr": "datum.value < 0 ? '-' + format(-datum.value, '.2~f') : format(datum.value, '.2~f')"}}, "y": {"field": "y", "type": "quantitative", "axis": {"orient": "right", "values": [-0.4, 0, 0.4], "title": null, "labelPadding": 9, "labelExpr": "datum.value < 0 ? '-' + format(-datum.value, '.1~f') : format(datum.value, '.1~f')"}}}},
            {"transform": [{"filter": "datum.kind == 'pt'"}], "mark": {"type": "errorbar", "color": "#111", "thickness": 1, "ticks": {"size": 7, "thickness": 1, "color": "#111"}, "clip": true}, "encoding": {"x": {"field": "x", "type": "quantitative", "axis": {"values": [-0.04, 0, 0.04], "title": null, "labelPadding": 11, "gridDash": [10, 136], "gridDashOffset": 10, "labelExpr": "datum.value < 0 ? '-' + format(-datum.value, '.2~f') : format(datum.value, '.2~f')"}}, "y": {"field": "y", "type": "quantitative", "axis": {"orient": "right", "values": [-0.4, 0, 0.4], "title": null, "labelPadding": 9, "labelExpr": "datum.value < 0 ? '-' + format(-datum.value, '.1~f') : format(datum.value, '.1~f')"}}, "yError": {"field": "err"}}},
            {"transform": [{"filter": "datum.kind == 'pt'"}], "mark": {"type": "point", "shape": "M-1,0A1,0.65,0,1,1,1,0A1,0.65,0,1,1,-1,0Z", "size": 121, "filled": false, "stroke": "#111", "strokeWidth": 1, "opacity": 1, "clip": true}, "encoding": {"x": {"field": "x", "type": "quantitative", "axis": {"values": [-0.04, 0, 0.04], "title": null, "labelPadding": 11, "gridDash": [10, 136], "gridDashOffset": 10, "labelExpr": "datum.value < 0 ? '-' + format(-datum.value, '.2~f') : format(datum.value, '.2~f')"}}, "y": {"field": "y", "type": "quantitative", "axis": {"orient": "right", "values": [-0.4, 0, 0.4], "title": null, "labelPadding": 9, "labelExpr": "datum.value < 0 ? '-' + format(-datum.value, '.1~f') : format(datum.value, '.1~f')"}}}},
            {"transform": [{"filter": "datum.kind == 'label'"}], "mark": {"type": "text", "align": "left", "baseline": "middle", "fontSize": 14, "color": "#222"}, "encoding": {"x": {"datum": -0.045, "type": "quantitative", "axis": {"values": [-0.04, 0, 0.04], "title": null, "labelPadding": 11, "gridDash": [10, 136], "gridDashOffset": 10, "labelExpr": "datum.value < 0 ? '-' + format(-datum.value, '.2~f') : format(datum.value, '.2~f')"}}, "y": {"datum": -0.39, "type": "quantitative", "axis": {"orient": "right", "values": [-0.4, 0, 0.4], "title": null, "labelPadding": 9, "labelExpr": "datum.value < 0 ? '-' + format(-datum.value, '.1~f') : format(datum.value, '.1~f')"}}, "text": {"field": "e"}}}
          ]
        }
      ]
    }
  ]
}
